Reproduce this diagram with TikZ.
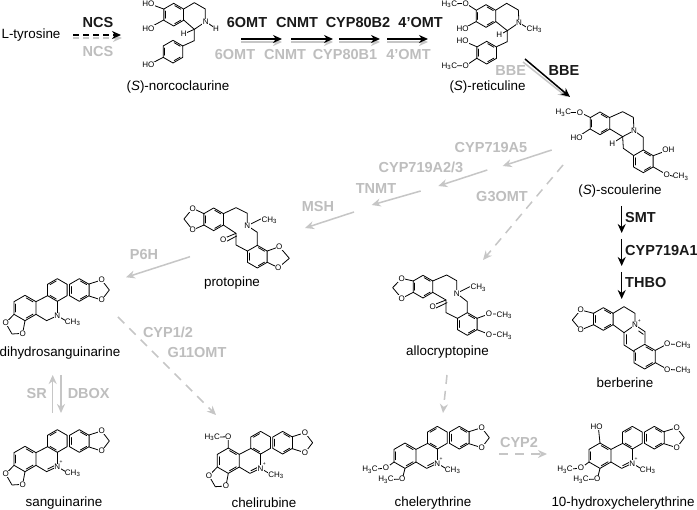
\documentclass[tikz,border=0pt]{standalone}
\usepackage{fontspec}
\setmainfont{Liberation Sans}
\usetikzlibrary{arrows.meta}
\definecolor{gl}{HTML}{BEBEBE}
\definecolor{ga}{HTML}{C6C6C6}
\tikzset{
  bond/.style={line width=0.8pt,black,line cap=round,line join=round},
  atom/.style={font=\fontsize{8}{9}\selectfont,fill=white,inner sep=0.4pt,text=black},
  molname/.style={font=\fontsize{13.4}{15}\selectfont,inner sep=0pt,text=black},
  enzb/.style={font=\bfseries\fontsize{14.5}{16}\selectfont,inner sep=0pt,text=black!90},
  enzg/.style={font=\bfseries\fontsize{14.5}{16}\selectfont,inner sep=0pt,text=gl},
  arrb/.style={line width=1.5pt,black,-{Stealth[length=9pt,width=8pt]}},
  arrg/.style={line width=1.5pt,ga,-{Stealth[length=9pt,width=8pt]}},
  dashb/.style={arrb,dash pattern=on 6pt off 4pt},
  dashg/.style={arrg,dash pattern=on 9pt off 7pt},
  dashs/.style={arrg,dash pattern=on 6pt off 4pt},
  mol/.style={x=0.33333pt,y=-0.33333pt}
}
\newcount\atomno
\newcommand\at[3]{\global\advance\atomno by 1 \node[atom] (atom\the\atomno) at (#1,#2) {#3};}
\newcommand\hx[4][34]{%
  \draw[bond] ({#2},{#3-#1}) -- ({#2+.866*#1},{#3-.5*#1}) -- ({#2+.866*#1},{#3+.5*#1}) -- ({#2},{#3+#1}) -- ({#2-.866*#1},{#3+.5*#1}) -- ({#2-.866*#1},{#3-.5*#1}) -- cycle;
  \foreach \k in {#4}{\pgfmathsetmacro\angk{-90+60*\k}
    \draw[bond] ({#2+.8*#1*cos(\angk+7)},{#3+.8*#1*sin(\angk+7)}) -- ({#2+.8*#1*cos(\angk+53)},{#3+.8*#1*sin(\angk+53)});}%
}
\newcommand\bd[1]{\draw[bond] #1;}
\newcommand\chh{CH\textsubscript{3}}
\newcommand\hhc{H\textsubscript{3}C}
% benzophenanthridine skeleton, local units = 1/3 px
\newcommand\sangcore{%
  \hx{238}{213}{0,2,4}
  \hx{172}{213}{5,3}
  \hx[38]{75}{267}{0,2,4}
  \bd{(108,248) -- (143,230)}
  \bd{(172,247) -- (172,290)}
  \bd{(108,286) -- (140,305) -- (172,290)}
  \bd{(172,290) -- (197,305)}
  \bd{(267,195) -- (305,183) -- (328,213) -- (305,243) -- (267,231)}
  \at{305}{183}{O}\at{305}{243}{O}
  \at{218}{310}{\chh}
}
\newcommand\sangdiox{%
  \bd{(42,286) -- (17,312) -- (36,345) -- (68,343) -- (75,305)}
  \at{17}{312}{O}\at{68}{343}{O}
}
\newcommand\sangplus{%
  \bd{(143,297) -- (165,286)}
  \at{172}{290}{N}
  \node[inner sep=0pt,font=\fontsize{5}{5}\selectfont] (atomplus\the\atomno) at (183,277) {+};
}
\begin{document}
\begin{tikzpicture}[x=1pt,y=-1pt]
\useasboundingbox (0,0) rectangle (697,510);
\fill[white] (0,0) rectangle (697,510);

% (S)-norcoclaurine
\begin{scope}[mol]
  \hx{521}{44}{0,2,4}
  \bd{(551,27) -- (583,8) -- (616,27) -- (616,65)}
  \bd{(551,60) -- (583,88) -- (617,65) -- (645,84)}
  \bd{(583,88) -- (551,102)}
  \bd{(583,88) -- (583,122) -- (548,138)}
  \hx{519}{155}{0,2,4}
  \bd{(445,10) -- (491,27)}\bd{(445,85) -- (491,60)}\bd{(445,195) -- (490,172)}
  \at{445}{10}{HO}\at{445}{85}{HO}\at{445}{195}{HO}
  \at{617}{65}{N}\at{648}{85}{H}\at{551}{102}{H}
\end{scope}

% (S)-reticuline
\begin{scope}[shift={(350,0)},mol]
  \hx{408}{48}{0,2,4}
  \bd{(298,12) -- (347,10) -- (378,30)}
  \bd{(338,87) -- (378,65)}
  \bd{(438,30) -- (470,10) -- (505,30) -- (507,68)}
  \bd{(438,65) -- (472,92) -- (507,68) -- (535,85)}
  \bd{(472,92) -- (448,105)}
  \bd{(472,92) -- (472,125) -- (440,140)}
  \hx{410}{158}{0,2,4}
  \bd{(338,122) -- (380,140)}
  \bd{(298,198) -- (347,197) -- (380,175)}
  \at{298}{12}{\hhc}\at{347}{10}{O}\at{338}{87}{HO}\at{507}{68}{N}\at{553}{88}{\chh}
  \at{448}{105}{H}\at{338}{122}{HO}\at{298}{198}{\hhc}\at{347}{197}{O}
\end{scope}

% (S)-scoulerine
\begin{scope}[shift={(350,0)},mol]
  \hx{750}{370}{0,2,4}
  \bd{(640,338) -- (690,337) -- (720,352)}
  \bd{(680,413) -- (720,387)}
  \bd{(780,352) -- (818,335) -- (850,352) -- (852,392)}
  \bd{(780,387) -- (818,410) -- (852,392) -- (880,412) -- (880,450)}
  \bd{(818,410) -- (787,430)}
  \bd{(818,410) -- (820,445) -- (850,466)}
  \hx{880}{484}{0,2,4}
  \bd{(910,467) -- (955,450)}
  \bd{(910,501) -- (950,524) -- (975,530)}
  \at{640}{338}{\hhc}\at{690}{337}{O}\at{680}{413}{HO}\at{852}{392}{N}\at{787}{430}{H}
  \at{955}{450}{OH}\at{950}{524}{O}\at{992}{530}{\chh}
\end{scope}

% protopine
\begin{scope}[shift={(170,195)},mol]
  \hx{131}{73}{0,2,4}
  \bd{(102,56) -- (68,40) -- (42,72) -- (68,105) -- (102,90)}
  \bd{(160,56) -- (198,38) -- (232,55) -- (232,92)}
  \bd{(232,92) -- (272,72)}
  \bd{(232,92) -- (262,112) -- (262,150)}
  \hx{262}{185}{0,2,4}
  \bd{(160,90) -- (198,115) -- (198,150) -- (232,168)}
  \bd{(198,115) -- (162,130)}\bd{(200,123) -- (168,140)}
  \bd{(292,168) -- (328,155) -- (358,190) -- (325,218) -- (292,202)}
  \at{68}{40}{O}\at{68}{105}{O}\at{232}{92}{N}\at{298}{75}{\chh}\at{160}{135}{O}
  \at{328}{155}{O}\at{325}{218}{O}
\end{scope}

% allocryptopine
\begin{scope}[shift={(350,190)},mol]
  \hx{219}{290}{0,2,4}
  \bd{(190,273) -- (155,265) -- (128,293) -- (155,325) -- (190,307)}
  \bd{(248,273) -- (290,255) -- (320,272) -- (320,310)}
  \bd{(320,310) -- (360,290)}
  \bd{(320,310) -- (352,335) -- (352,368)}
  \hx{352}{402}{0,2,4}
  \bd{(248,307) -- (288,330) -- (288,368) -- (322,385)}
  \bd{(288,330) -- (250,345)}\bd{(291,338) -- (256,355)}
  \bd{(381,385) -- (417,372) -- (445,372)}
  \bd{(381,419) -- (417,433) -- (445,433)}
  \at{155}{265}{O}\at{155}{325}{O}\at{320}{310}{N}\at{385}{293}{\chh}\at{248}{350}{O}
  \at{417}{372}{O}\at{463}{375}{\chh}\at{417}{433}{O}\at{463}{437}{\chh}
\end{scope}

% berberine
\begin{scope}[shift={(350,190)},mol]
  \hx{760}{387}{0,2,4}
  \bd{(731,370) -- (692,360) -- (667,390) -- (692,420) -- (731,404)}
  \bd{(789,370) -- (822,350) -- (855,370) -- (855,405)}
  \bd{(789,404) -- (822,428) -- (855,405) -- (885,425) -- (885,460)}
  \bd{(866,423) -- (880,433)}
  \bd{(822,428) -- (822,465) -- (853,485)}
  \bd{(829,434) -- (829,462)}
  \hx[37]{884}{500}{0,2,4}
  \bd{(916,481) -- (952,462) -- (980,463)}
  \bd{(916,518) -- (952,538) -- (980,540)}
  \at{692}{360}{O}\at{692}{420}{O}\at{855}{405}{N}
  \node[inner sep=0pt,font=\fontsize{5}{5}\selectfont] (berbplus) at (868,393) {+};
  \at{952}{462}{O}\at{1000}{465}{\chh}\at{952}{538}{O}\at{1000}{540}{\chh}
\end{scope}

% dihydrosanguinarine
\begin{scope}[shift={(0,219)},mol]
  \sangcore\sangdiox
  \at{172}{290}{N}
\end{scope}
% sanguinarine
\begin{scope}[shift={(0,370)},mol]
  \sangcore\sangdiox\sangplus
\end{scope}
% chelirubine
\begin{scope}[shift={(203.3,371.7)},mol]
  \sangcore\sangdiox\sangplus
  \bd{(75,229) -- (75,195) -- (27,197)}
  \at{75}{195}{O}\at{27}{197}{\hhc}
\end{scope}
% chelerythrine
\begin{scope}[shift={(380,366.7)},mol]
  \sangcore\sangplus
  \bd{(42,286) -- (18,304) -- (-30,309)}
  \bd{(75,305) -- (67,337) -- (18,339)}
  \at{18}{304}{O}\at{-30}{309}{\hhc}\at{67}{337}{O}\at{18}{339}{\hhc}
\end{scope}
% 10-hydroxychelerythrine
\begin{scope}[shift={(575,366.7)},mol]
  \sangcore\sangplus
  \bd{(75,229) -- (70,181)}
  \bd{(42,286) -- (18,304) -- (-30,309)}
  \bd{(75,305) -- (67,337) -- (18,339)}
  \at{65}{181}{HO}
  \at{18}{304}{O}\at{-30}{309}{\hhc}\at{67}{337}{O}\at{18}{339}{\hhc}
\end{scope}

% molecule names
\node[molname] (ltyr) at (31,35) {L-tyrosine};
\node[molname] (norc) at (178,87) {(\textit{S})-norcoclaurine};
\node[molname] (reti) at (487.5,87) {(\textit{S})-reticuline};
\node[molname] (scou) at (620,191) {(\textit{S})-scoulerine};
\node[molname] (prot) at (232,283) {protopine};
\node[molname] (dihy) at (60,353) {dihydrosanguinarine};
\node[molname] (allo) at (447.5,352) {allocryptopine};
\node[molname] (berb) at (625,383) {berberine};
\node[molname] (sang) at (64,503) {sanguinarine};
\node[molname] (chru) at (264,503) {chelirubine};
\node[molname] (chel) at (433,503) {chelerythrine};
\node[molname] (hydr) at (623,503) {10-hydroxychelerythrine};

% enzyme labels
\node[enzb] (eNCSb) at (98,23) {NCS};
\node[enzg] (eNCSg) at (98,52) {NCS};
\node[enzb] (e6b) at (247,23) {6OMT};
\node[enzg] (e6g) at (235,55) {6OMT};
\node[enzb] (eCb) at (297,23) {CNMT};
\node[enzg] (eCg) at (285,55) {CNMT};
\node[enzb] (eYb) at (358,23) {CYP80B2};
\node[enzg] (eYg) at (345,55) {CYP80B1};
\node[enzb] (e4b) at (420.6,23) {4’OMT};
\node[enzg] (e4g) at (408.5,55) {4’OMT};
\node[enzg] (eBg) at (510.7,71) {BBE};
\node[enzb] (eBb) at (564,71) {BBE};
\node[enzg] (eA5) at (491,148) {CYP719A5};
\node[enzg] (eA2) at (421,167) {CYP719A2/3};
\node[enzg] (eTN) at (376,189) {TNMT};
\node[enzg] (eG3) at (502,197) {G3OMT};
\node[enzg] (eMS) at (318,207) {MSH};
\node[enzg] (eP6) at (144,255) {P6H};
\node[enzb,anchor=west] (eSM) at (625,218) {SMT};
\node[enzb,anchor=west] (eA1) at (625,251) {CYP719A1};
\node[enzb,anchor=west] (eTH) at (625,283) {THBO};
\node[enzg] (eC1) at (168,332) {CYP1/2};
\node[enzg] (eG1) at (197,353) {G11OMT};
\node[enzg] (eSR) at (36.7,394) {SR};
\node[enzg] (eDB) at (88.7,394) {DBOX};
\node[enzg] (eC2) at (519,443) {CYP2};

% connector end points
\coordinate (a1) at (73,38);  \coordinate (a2) at (122,38);
\coordinate (b1) at (73,35);  \coordinate (b2) at (121,35);
\coordinate (c1) at (241,42); \coordinate (c2) at (282,42);
\coordinate (d1) at (241,39); \coordinate (d2) at (282,39);
\coordinate (e1) at (291,42); \coordinate (e2) at (333,42);
\coordinate (f1) at (291,39); \coordinate (f2) at (333,39);
\coordinate (g1) at (339,42); \coordinate (g2) at (380,42);
\coordinate (h1) at (339,39); \coordinate (h2) at (380,39);
\coordinate (i1) at (387,42); \coordinate (i2) at (428,42);
\coordinate (j1) at (387,39); \coordinate (j2) at (428,39);
\coordinate (k1) at (523,62); \coordinate (k2) at (567,97);
\coordinate (l1) at (525,59); \coordinate (l2) at (570,97);
\coordinate (m1) at (551.7,150); \coordinate (m2) at (502.7,166);
\coordinate (n1) at (487.3,170); \coordinate (n2) at (438.3,186);
\coordinate (o1) at (420.7,191); \coordinate (o2) at (371.7,205);
\coordinate (p1) at (354,212); \coordinate (p2) at (305,228);
\coordinate (q1) at (190,256.7); \coordinate (q2) at (126,277.3);
\coordinate (r1) at (563,165); \coordinate (r2) at (483,260);
\coordinate (s1) at (118,317); \coordinate (s2) at (216,415);
\coordinate (t1) at (447,375); \coordinate (t2) at (443,413);
\coordinate (u1) at (499,454); \coordinate (u2) at (547,454);
\coordinate (v1) at (52.7,413); \coordinate (v2) at (52.7,375);
\coordinate (w1) at (61,375); \coordinate (w2) at (61,413);
\coordinate (x1) at (621.7,206); \coordinate (x2) at (621.7,233);
\coordinate (y1) at (621.7,239); \coordinate (y2) at (621.7,266);
\coordinate (z1) at (621.7,272); \coordinate (z2) at (621.7,299);

% connectors
\draw[dashs] (a1) -- (a2);
\draw[dashb] (b1) -- (b2);
\draw[arrg] (c1) -- (c2);
\draw[arrb] (d1) -- (d2);
\draw[arrg] (e1) -- (e2);
\draw[arrb] (f1) -- (f2);
\draw[arrg] (g1) -- (g2);
\draw[arrb] (h1) -- (h2);
\draw[arrg] (i1) -- (i2);
\draw[arrb] (j1) -- (j2);
\draw[arrg] (k1) -- (k2);
\draw[arrb] (l1) -- (l2);
\draw[arrg] (m1) -- (m2);
\draw[arrg] (n1) -- (n2);
\draw[arrg] (o1) -- (o2);
\draw[arrg] (p1) -- (p2);
\draw[arrg] (q1) -- (q2);
\draw[dashg] (r1) -- (r2);
\draw[dashg] (s1) -- (s2);
\draw[dashg] (t1) -- (t2);
\draw[dashg] (u1) -- (u2);
\draw[arrg] (v1) -- (v2);
\draw[arrg] (w1) -- (w2);
\draw[arrb] (x1) -- (x2);
\draw[arrb] (y1) -- (y2);
\draw[arrb] (z1) -- (z2);
\end{tikzpicture}
\end{document}
